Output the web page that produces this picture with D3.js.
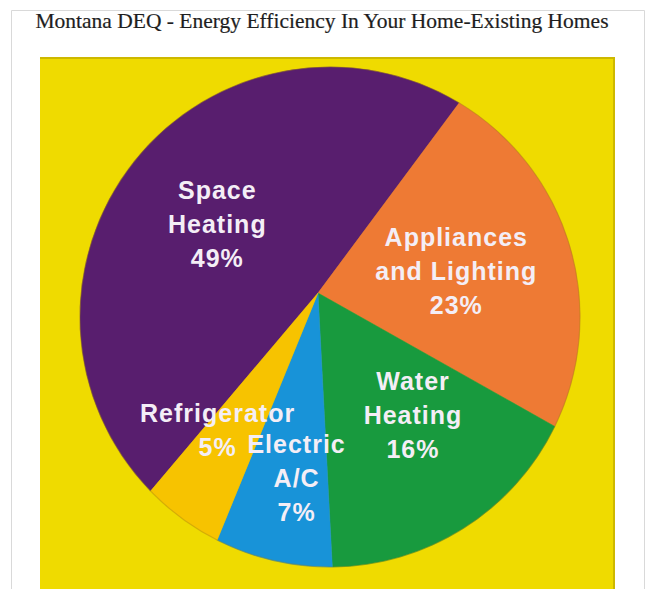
<!DOCTYPE html>
<html>
<head>
<meta charset="utf-8">
<script src="https://cdn.jsdelivr.net/npm/d3@7"></script>
<style>
  html, body { margin: 0; padding: 0; background: #ffffff; }
  svg { display: block; }
</style>
</head>
<body>
<svg id="chart" width="646" height="589"></svg>
<script>
// ---- data ----
const title = "Montana DEQ - Energy Efficiency In Your Home-Existing Homes";
const categories = ["Space Heating", "Appliances and Lighting", "Water Heating", "Electric A/C", "Refrigerator"];
const values = [49, 23, 16, 7, 5];
const labelLines = [
  ["Space", "Heating", "49%"],
  ["Appliances", "and Lighting", "23%"],
  ["Water", "Heating", "16%"],
  ["Electric", "A/C", "7%"],
  ["Refrigerator", "5%"]
];
const colors = ["#581e6e", "#ee7a34", "#189a3e", "#1893d8", "#f7c300"];

// ---- layout ----
const W = 646, H = 589;
const svg = d3.select("#chart");
const apex = [318, 293];          // where slices meet
const C = [330, 317], R = 250;    // outline circle
const deg = Math.PI / 180;
// per-slice label placement: [distance from apex, angle shift (deg)]
const labelPlace = [[122, -4], [140, 3], [155, -6], [186, -3], [170, 5]];
const lineGap = 34;

// frame
svg.append("rect").attr("x", 0).attr("y", 0).attr("width", W).attr("height", H).attr("fill", "#fff");
svg.append("path").attr("d", `M11.5,${H} V10.5 H644.5 V${H}`)
  .attr("fill", "none").attr("stroke", "#d9d9d9").attr("stroke-width", 1);

// title
svg.append("text")
  .attr("x", 322).attr("y", 28)
  .attr("text-anchor", "middle")
  .attr("font-family", "'Liberation Serif', 'Times New Roman', serif")
  .attr("font-size", 21.5)
  .attr("fill", "#1e1e1e")
  .attr("stroke", "#1e1e1e").attr("stroke-width", 0.2)
  .text(title);

// yellow panel
svg.append("rect").attr("x", 40).attr("y", 57).attr("width", 575).attr("height", H - 57)
  .attr("fill", "#efdb00");
svg.append("path").attr("d", `M40,58 H614 V${H}`)
  .attr("fill", "none").attr("stroke", "#cdb800").attr("stroke-width", 2);

// pie
const pie = d3.pie().sort(null).value(d => d)
  .startAngle(-139.8 * deg).endAngle(-139.8 * deg + 2 * Math.PI);
const arcs = pie(values);

function rayPoint(a) {
  const dx = Math.sin(a), dy = -Math.cos(a);
  const fx = apex[0] - C[0], fy = apex[1] - C[1];
  const b = fx * dx + fy * dy;
  const c = fx * fx + fy * fy - R * R;
  const t = -b + Math.sqrt(b * b - c);
  return [apex[0] + t * dx, apex[1] + t * dy];
}
function slicePath(d) {
  const p = d3.path();
  const q0 = rayPoint(d.startAngle), q1 = rayPoint(d.endAngle);
  p.moveTo(apex[0], apex[1]);
  p.lineTo(q0[0], q0[1]);
  p.arc(C[0], C[1], R,
    Math.atan2(q0[1] - C[1], q0[0] - C[0]),
    Math.atan2(q1[1] - C[1], q1[0] - C[0]), false);
  p.closePath();
  return p.toString();
}

svg.append("g").selectAll("path").data(arcs).join("path")
  .attr("d", slicePath)
  .attr("fill", (d, i) => colors[i])
  .attr("stroke", (d, i) => colors[i])
  .attr("stroke-width", 0.5);

// subtle rim
svg.append("circle").attr("cx", C[0]).attr("cy", C[1]).attr("r", R)
  .attr("fill", "none").attr("stroke", "#9a7a10").attr("stroke-opacity", 0.35).attr("stroke-width", 1.2);

// labels
const lg = svg.append("g")
  .attr("font-family", "'Liberation Sans', Arial, sans-serif")
  .attr("font-weight", "bold")
  .attr("font-size", 25)
  .attr("letter-spacing", 1)
  .attr("fill", "#f4eef6")
  .attr("text-anchor", "middle");

arcs.forEach((d, i) => {
  const mid = (d.startAngle + d.endAngle) / 2 + labelPlace[i][1] * deg;
  const dist = labelPlace[i][0];
  const x = apex[0] + Math.sin(mid) * dist;
  const y = apex[1] - Math.cos(mid) * dist;
  const lines = labelLines[i];
  const t = lg.append("text").attr("x", x).attr("y", y);
  lines.forEach((ln, j) => {
    t.append("tspan")
      .attr("x", x)
      .attr("y", y + (j - (lines.length - 1) / 2) * lineGap)
      .attr("dy", "0.36em")
      .text(ln);
  });
});
</script>
</body>
</html>
